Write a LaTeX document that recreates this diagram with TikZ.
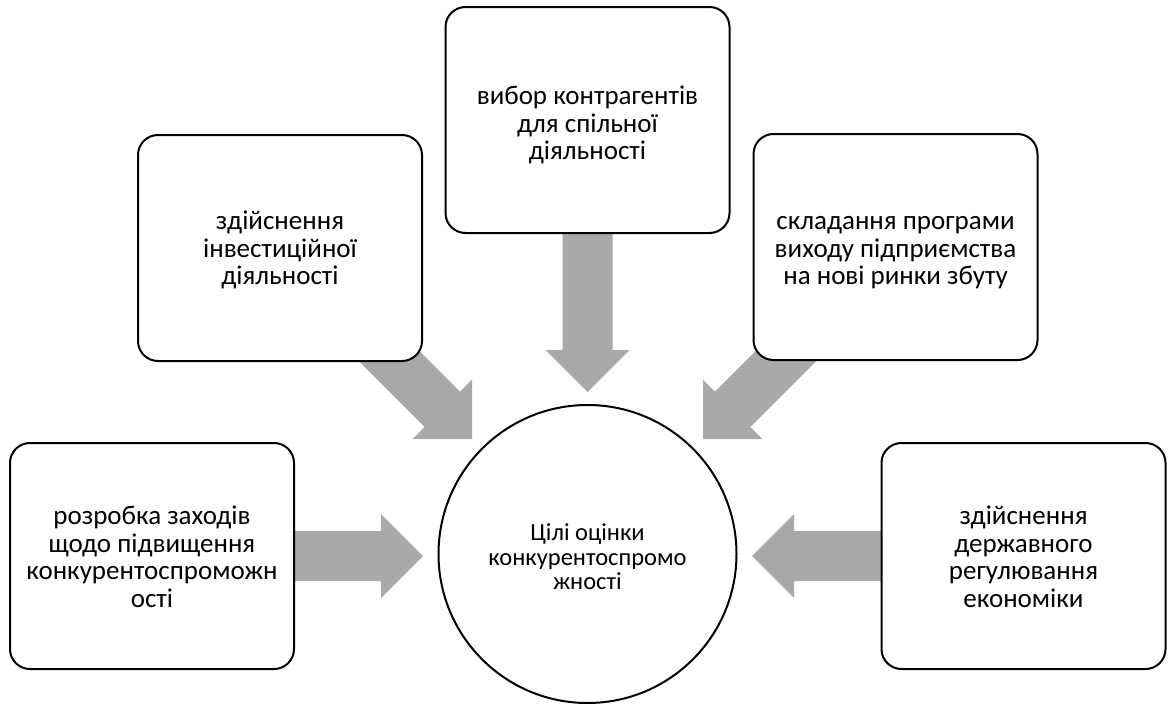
\documentclass[tikz,border=0pt]{standalone}
\usepackage{fontspec}
\setmainfont{Carlito}
\definecolor{arrowgray}{HTML}{A9A9A9}
\tikzset{
  box/.style={draw=black, line width=2pt, fill=white, rounded corners=20pt,
    minimum width=284pt, minimum height=226pt, inner sep=0pt},
  boxtext/.style={inner sep=0pt, align=center, font=\fontsize{27}{27.5}\selectfont},
  hub/.style={draw=black, line width=2pt, fill=white, circle, minimum size=298pt,
    inner sep=0pt, align=center, font=\fontsize{24.5}{24.5}\selectfont},
  blockarrow/.style={fill=arrowgray, draw=none}
}
\newcommand{\blockarr}[3]{% tip coordinate, rotation, length
  \begin{scope}[shift={(#1)}, rotate=#2]
    \fill[blockarrow] (-#3,-25) -- (-42,-25) -- (-42,-42) -- (0,0) -- (-42,42) -- (-42,25) -- (-#3,25) -- cycle;
  \end{scope}}
\begin{document}
\begin{tikzpicture}[x=1pt, y=-1pt]
  \useasboundingbox (0,0) rectangle (1173,704);
  % arrow tips
  \coordinate (tT) at (587.5,392);
  \coordinate (tUL) at (472,439);
  \coordinate (tUR) at (703,439);
  \coordinate (tL) at (423,556);
  \coordinate (tR) at (752,556);
  \blockarr{tT}{-90}{170}
  \blockarr{tUL}{-45}{135}
  \blockarr{tUR}{-135}{135}
  \blockarr{tL}{0}{135}
  \blockarr{tR}{180}{135}
  % boxes
  \node[box] (top) at (587.5,120) {};
  \node[boxtext] (topt) at ([yshift=-5pt]top.center) {вибор контрагентів\\для спільної\\діяльності};
  \node[box] (ul) at (280,248) {};
  \node[boxtext] (ult) at ([yshift=-2pt]ul.center) {здійснення\\інвестиційної\\діяльності};
  \node[box] (ur) at (895.5,247) {};
  \node[boxtext] (urt) at ([yshift=-6pt]ur.center) {складання програми\\виходу підприємства\\на нові ринки збуту};
  \node[box] (ll) at (152,556) {};
  \node[boxtext] (llt) at ([yshift=-1pt]ll.center) {розробка заходів\\щодо підвищення\\конкурентоспроможн\\ості};
  \node[box] (lr) at (1023.5,556) {};
  \node[boxtext] (lrt) at ([yshift=-1pt]lr.center) {здійснення\\державного\\регулювання\\економіки};
  \node[hub] (c) at (587.5,554) {};
  \node[boxtext, font=\fontsize{24.5}{24.5}\selectfont] (ct) at ([yshift=-3pt]c.center) {Цілі оцінки\\конкурентоспромо\\жності};
\end{tikzpicture}
\end{document}
